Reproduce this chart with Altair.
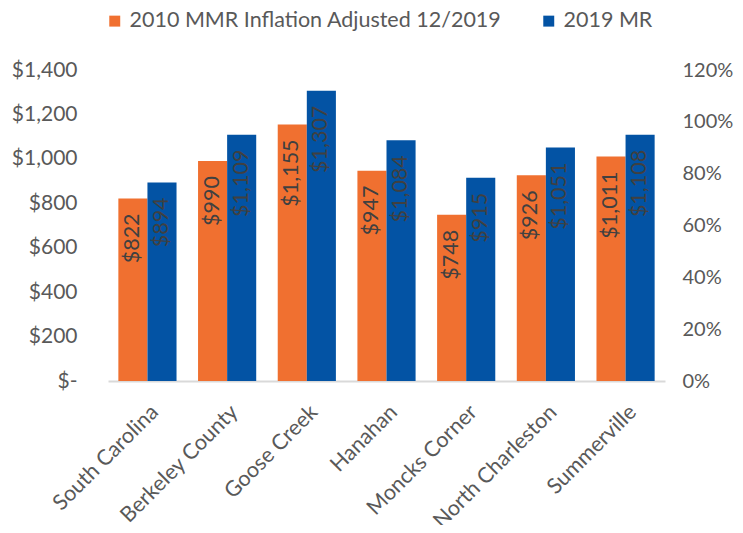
import altair as alt
import pandas as pd

places = ["South Carolina", "Berkeley County", "Goose Creek", "Hanahan",
          "Moncks Corner", "North Charleston", "Summerville"]
series = ["2010 MMR Inflation Adjusted 12/2019", "2019 MR"]
mmr_2010 = [822, 990, 1155, 947, 748, 926, 1011]
mr_2019 = [894, 1109, 1307, 1084, 915, 1051, 1108]
dollar_ticks = [0, 200, 400, 600, 800, 1000, 1200, 1400]
pct_ticks = [0, 0.2, 0.4, 0.6, 0.8, 1.0, 1.2]
colors = ["#F07030", "#0353A4"]

rows = []
for p, a, b in zip(places, mmr_2010, mr_2019):
    rows.append({"place": p, "series": series[0], "value": a, "label": "$" + format(a, ",")})
    rows.append({"place": p, "series": series[1], "value": b, "label": "$" + format(b, ",")})
df = pd.DataFrame(rows)
pct_df = pd.DataFrame({"pct": pct_ticks})

FONT = "Lato"
GRAY = "#595959"

x = alt.X("place:N", sort=places, title=None,
          scale=alt.Scale(paddingInner=0.27, paddingOuter=0.13),
          axis=alt.Axis(labelAngle=-45, labelFontSize=21.5, labelColor=GRAY, labelFont=FONT,
                        ticks=False, domainColor="#D9D9D9", domainWidth=2, labelPadding=20,
                        labelLimit=300))
xo = alt.XOffset("series:N", sort=series)

bars = alt.Chart(df).mark_bar().encode(
    x=x, xOffset=xo,
    y=alt.Y("value:Q", title=None,
            scale=alt.Scale(domain=[0, 1400], nice=False),
            axis=alt.Axis(values=dollar_ticks, grid=False, ticks=False, domain=False,
                          labelExpr="datum.value == 0 ? '$-' : '$' + format(datum.value, ',')",
                          labelFontSize=21, labelColor=GRAY, labelFont=FONT, labelPadding=31)),
    color=alt.Color("series:N", sort=series, title=None,
                    scale=alt.Scale(domain=series, range=colors),
                    legend=alt.Legend(orient="none", direction="horizontal", legendX=-4, legendY=-60,
                                      symbolType="square", symbolSize=120, labelFontSize=21.5,
                                      labelColor=GRAY, labelFont=FONT, columnPadding=36,
                                      symbolStrokeWidth=0, labelOffset=4, labelLimit=0)),
)

labels = alt.Chart(df).mark_text(angle=270, align="right", baseline="middle", dx=-15,
                                 fontSize=21.5, color="#404040", font=FONT).encode(
    x=x, xOffset=xo,
    y=alt.Y("value:Q", scale=alt.Scale(domain=[0, 1400], nice=False)),
    text="label:N",
)

left = alt.layer(bars, labels)

right = alt.Chart(pct_df).mark_point(opacity=0).encode(
    y=alt.Y("pct:Q", title=None, scale=alt.Scale(domain=[0, 1.2], nice=False),
            axis=alt.Axis(orient="right", values=pct_ticks, format=".0%", grid=False, ticks=False,
                          domain=False, labelFontSize=20, labelColor=GRAY, labelFont=FONT,
                          labelPadding=17)),
)

chart = alt.layer(left, right).resolve_scale(y="independent").properties(
    width=557, height=311,
    autosize=alt.AutoSizeParams(type="none"),
    padding={"left": 100, "top": 62, "right": 70, "bottom": 144},
).configure_view(stroke=None)

chart.save("out.html", embed_options={"renderer": "svg", "actions": False})
